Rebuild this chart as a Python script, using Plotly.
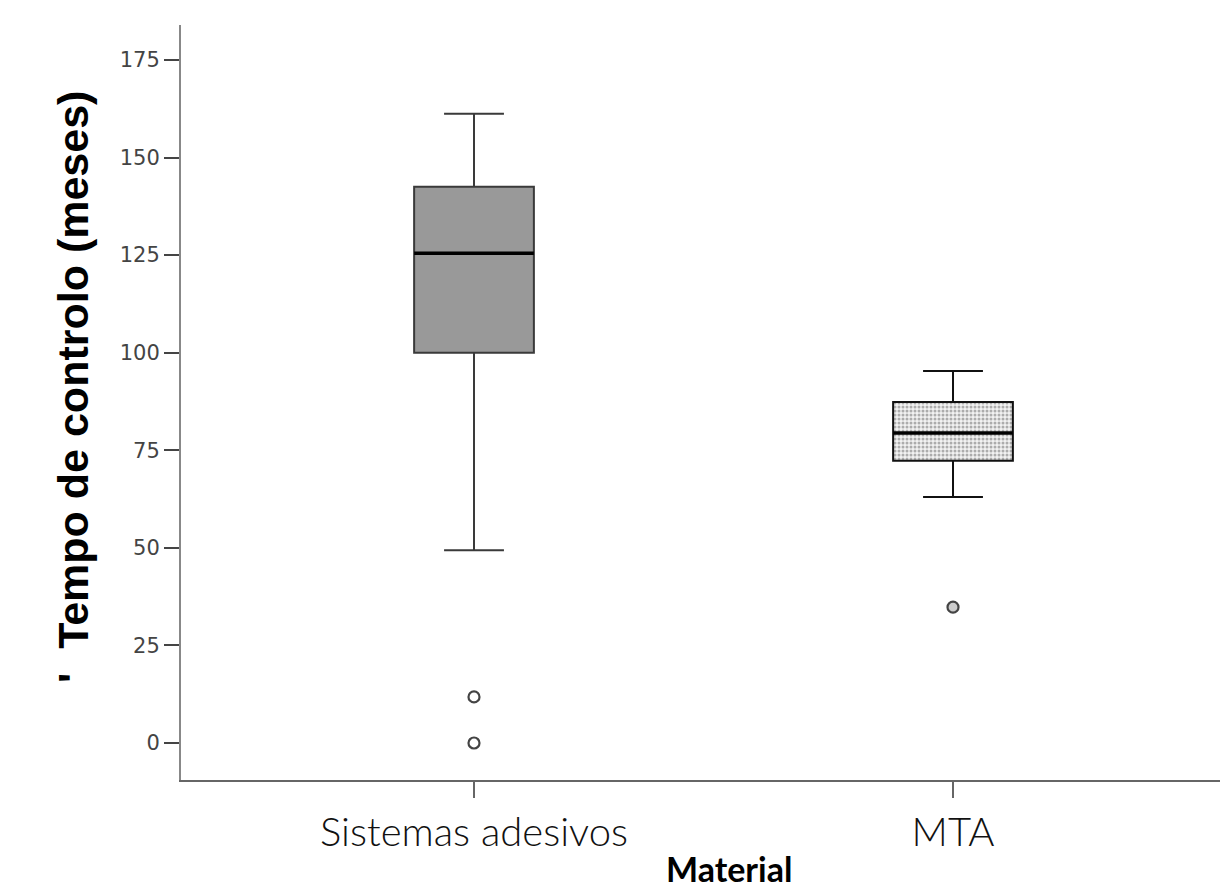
import plotly.graph_objects as go

categories = ["Sistemas adesivos", "MTA"]
q1_vals = [100, 72.3]
median_vals = [125.5, 79.4]
q3_vals = [142.5, 87.4]
lower_whisker = [49.4, 63.0]
upper_whisker = [161.2, 95.3]
outlier_groups = [[11.8, 0.0], [34.8]]
y_ticks = [0, 25, 50, 75, 100, 125, 150, 175]

BOX_W = 0.25
positions = list(range(len(categories)))

fig = go.Figure()

# patterned fill for MTA box body
fig.add_trace(go.Bar(
    x=[positions[1]], base=[q1_vals[1]], y=[q3_vals[1] - q1_vals[1]], width=BOX_W,
    marker=dict(color="white", line=dict(width=0),
                pattern=dict(shape=".", fgcolor="#666666", bgcolor="#f2f2f2", size=4, solidity=0.45)),
    showlegend=False, hoverinfo="skip"))

fills = ["#999999", "rgba(0,0,0,0)"]
lines = ["#3a3a3a", "#111111"]
for i, p in enumerate(positions):
    fig.add_trace(go.Box(
        x=[p], q1=[q1_vals[i]], median=[median_vals[i]], q3=[q3_vals[i]],
        lowerfence=[lower_whisker[i]], upperfence=[upper_whisker[i]],
        width=BOX_W, whiskerwidth=0.5, boxpoints=False,
        fillcolor=fills[i], line=dict(color=lines[i], width=2),
        showlegend=False))
    fig.add_trace(go.Scatter(
        x=[p - BOX_W / 2, p + BOX_W / 2], y=[median_vals[i], median_vals[i]],
        mode="lines", line=dict(color="black", width=3.5),
        showlegend=False, hoverinfo="skip"))
    ys = outlier_groups[i]
    fig.add_trace(go.Scatter(
        x=[p] * len(ys), y=ys, mode="markers",
        marker=dict(symbol="circle", size=11, color="#cccccc" if i == 1 else "white",
                    line=dict(color="#444444", width=2.2)),
        showlegend=False))

fig.update_layout(
    width=1228, height=891,
    margin=dict(l=173, r=0, t=17, b=119),
    plot_bgcolor="white", paper_bgcolor="white",
    barmode="overlay",
    xaxis=dict(
        range=[-0.6117, 1.5908], tickvals=positions, ticktext=categories,
        automargin=False,
        showline=True, linecolor="#666666", linewidth=2,
        ticks="outside", ticklen=16, tickwidth=2, tickcolor="#666666",
        showgrid=False, zeroline=False,
        tickfont=dict(family="Lato", size=40, color="#111111", weight=300),
    ),
    yaxis=dict(
        range=[-9.48, 183.96], tickvals=y_ticks,
        automargin=False,
        showline=True, linecolor="#888888", linewidth=2,
        ticks="outside", ticklen=15, tickwidth=2, tickcolor="#444444",
        showgrid=False, zeroline=False,
        tickfont=dict(family="DejaVu Sans", size=21, color="#444444"),
    ),
    annotations=[
        dict(text="<b>Material</b>", xref="paper", yref="paper", x=0.519, y=0,
             xanchor="center", yanchor="bottom", yshift=-111, showarrow=False,
             font=dict(family="Lato", size=34, color="black")),
        dict(text="<b>'  Tempo de controlo (meses)</b>", xref="paper", yref="paper",
             x=-0.1024, y=0.5205, xanchor="center", yanchor="middle", textangle=-90,
             showarrow=False,
             font=dict(family="Liberation Sans", size=43, color="black")),
    ],
)

fig.write_html("out.html")
